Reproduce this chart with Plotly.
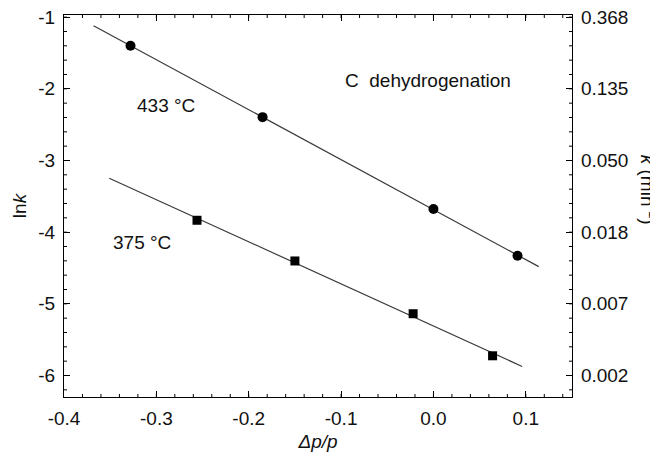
import numpy as np
import plotly.graph_objects as go

# Data
dp_433 = [-0.328, -0.185, 0.000, 0.091]
lnk_433 = [-1.40, -2.395, -3.676, -4.328]
dp_375 = [-0.256, -0.150, -0.022, 0.064]
lnk_375 = [-3.834, -4.402, -5.138, -5.725]
fit_x_433 = [-0.368, 0.114]
fit_x_375 = [-0.351, 0.096]
left_ticks = [-1, -2, -3, -4, -5, -6]
left_labels = ["-1", "-2", "-3", "-4", "-5", "-6"]
right_labels = ["0.368", "0.135", "0.050", "0.018", "0.007", "0.002"]
x_ticks = [-0.4, -0.3, -0.2, -0.1, 0.0, 0.1]
x_labels = ["-0.4", "-0.3", "-0.2", "-0.1", "0.0", "0.1"]

FONT = "Liberation Sans, Arial, sans-serif"
LINE = "#3a3a3a"
TXT = "#111"
FS = 19

c433 = np.polyfit(dp_433, lnk_433, 1)
c375 = np.polyfit(dp_375, lnk_375, 1)

xr = [-0.4, 0.15]
yr = [-6.3, -0.97]
x_minor = [round(v, 2) for v in np.arange(-0.38, 0.1501, 0.02)]
y_minor = [round(v, 1) for v in np.arange(-6.2, -0.99, 0.2)]

fig = go.Figure()
fig.add_trace(go.Scatter(x=fit_x_433, y=np.polyval(c433, fit_x_433), mode="lines",
                         line=dict(color=LINE, width=1.2), showlegend=False))
fig.add_trace(go.Scatter(x=fit_x_375, y=np.polyval(c375, fit_x_375), mode="lines",
                         line=dict(color=LINE, width=1.2), showlegend=False))
fig.add_trace(go.Scatter(x=dp_433, y=lnk_433, mode="markers",
                         marker=dict(symbol="circle", size=10, color="black"), showlegend=False))
fig.add_trace(go.Scatter(x=dp_375, y=lnk_375, mode="markers",
                         marker=dict(symbol="square", size=9, color="black"), showlegend=False))
# invisible trace to anchor the right axis
fig.add_trace(go.Scatter(x=dp_433, y=lnk_433, yaxis="y2", mode="markers",
                         marker=dict(opacity=0), showlegend=False, hoverinfo="skip"))

axis_common = dict(showline=True, linecolor="black", linewidth=1.2, ticks="inside",
                   ticklen=6, tickwidth=1.2, tickcolor="black", showgrid=False, zeroline=False,
                   automargin=False, ticklabelstandoff=4, ticklabeloverflow="allow",
                   tickfont=dict(family=FONT, size=FS, color=TXT))

fig.update_layout(
    width=658, height=465,
    margin=dict(l=56, r=94, t=7, b=76),
    plot_bgcolor="white", paper_bgcolor="white",
    font=dict(family=FONT, size=FS, color=TXT),
    xaxis=dict(range=xr, tickmode="array", tickvals=x_ticks, ticktext=x_labels, mirror="ticks",
               title=dict(text="<i>Δp/p</i>", font=dict(family=FONT, size=FS), standoff=6),
               **axis_common),
    yaxis=dict(range=yr, tickmode="array", tickvals=left_ticks, ticktext=left_labels, mirror=True,
               title=dict(text="ln<i>k</i>", font=dict(family=FONT, size=FS), standoff=6),
               **axis_common),
    yaxis2=dict(range=yr, overlaying="y", side="right", tickmode="array", tickvals=left_ticks,
                ticktext=right_labels, **axis_common),
)

# minor ticks (inside) on all four sides
tick_line = dict(color="black", width=1)
for xv in x_minor:
    fig.add_shape(type="line", xref="x", yref="y domain", ysizemode="pixel", yanchor=0,
                  x0=xv, x1=xv, y0=0, y1=3, line=tick_line)
    fig.add_shape(type="line", xref="x", yref="y domain", ysizemode="pixel", yanchor=1,
                  x0=xv, x1=xv, y0=0, y1=-3, line=tick_line)
for yv in y_minor:
    fig.add_shape(type="line", xref="x domain", yref="y", xsizemode="pixel", xanchor=0,
                  x0=0, x1=3, y0=yv, y1=yv, line=tick_line)
    fig.add_shape(type="line", xref="x domain", yref="y", xsizemode="pixel", xanchor=1,
                  x0=0, x1=-3, y0=yv, y1=yv, line=tick_line)

fig.add_annotation(x=-0.2895, y=-2.237, text="433 °C", showarrow=False,
                   font=dict(family=FONT, size=FS, color=TXT))
fig.add_annotation(x=-0.3155, y=-4.14, text="375 °C", showarrow=False,
                   font=dict(family=FONT, size=FS, color=TXT))
fig.add_annotation(x=-0.006, y=-1.89, text="C  dehydrogenation", showarrow=False,
                   font=dict(family=FONT, size=FS, color=TXT))
fig.add_annotation(xref="paper", yref="paper", x=1.152, y=0.542, xanchor="center",
                   yanchor="middle", text="<i>k</i> (min<sup>-1</sup>)",
                   textangle=90, showarrow=False, font=dict(family=FONT, size=FS, color=TXT))

fig.write_html("out.html")
